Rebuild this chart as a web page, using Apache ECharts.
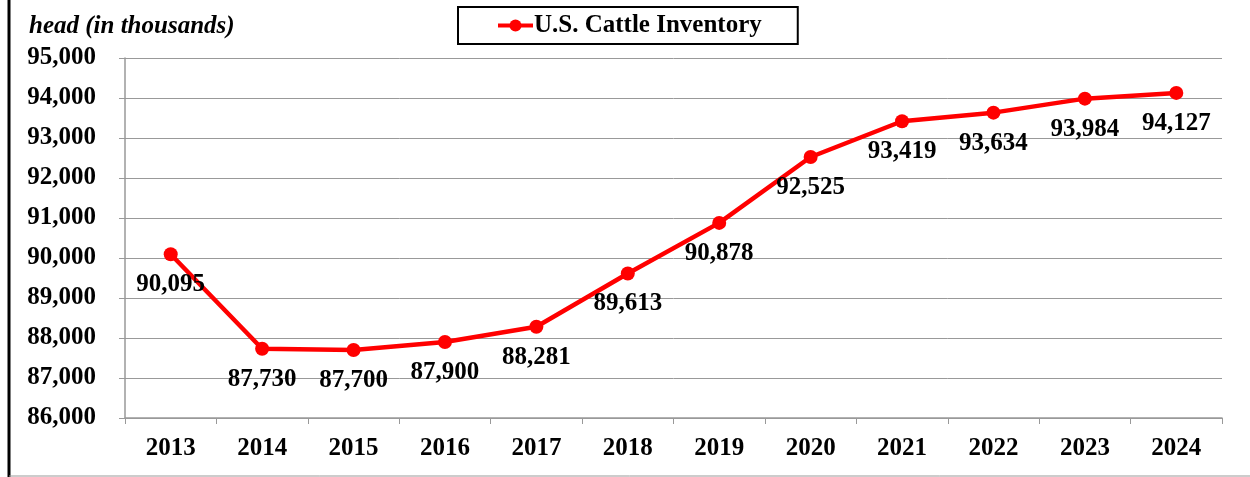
<!DOCTYPE html>
<html>
<head>
<meta charset="utf-8">
<script src="https://cdn.jsdelivr.net/npm/echarts@6/dist/echarts.min.js"></script>
<style>
  html, body { margin: 0; padding: 0; background: #fff; }
  #chart { width: 1250px; height: 477px; }
</style>
</head>
<body>
<div id="chart"></div>
<script>
// data
var years = ['2013', '2014', '2015', '2016', '2017', '2018', '2019', '2020', '2021', '2022', '2023', '2024'];
var inventory = [90095, 87730, 87700, 87900, 88281, 89613, 90878, 92525, 93419, 93634, 93984, 94127];
var yMin = 86000;
var yMax = 95000;
var yStep = 1000;

var serif = '"Liberation Serif", "Times New Roman", serif';

function fmt(v) {
  return String(v).replace(/\B(?=(\d{3})+(?!\d))/g, ',');
}

var myChart = echarts.init(document.getElementById('chart'));

var option = {
  animation: false,
  title: {
    text: 'head (in thousands)',
    left: 24,
    top: 9,
    textStyle: {
      fontFamily: serif,
      fontStyle: 'italic',
      fontWeight: 'bold',
      fontSize: 25,
      color: '#000'
    }
  },
  legend: {
    data: ['U.S. Cattle Inventory'],
    left: 458,
    top: 7,
    padding: [6, 36, 6, 38],
    borderColor: '#000',
    borderWidth: 2,
    itemWidth: 35,
    itemHeight: 15,
    lineStyle: { width: 4 },
    textStyle: {
      fontFamily: serif,
      fontWeight: 'bold',
      fontSize: 25,
      color: '#000',
      padding: [0, 0, 0, -4]
    }
  },
  grid: {
    left: 125,
    right: 28,
    top: 58,
    bottom: 59
  },
  xAxis: {
    type: 'category',
    data: years,
    boundaryGap: true,
    axisLine: { lineStyle: { color: '#999', width: 1.5 } },
    axisTick: { show: true, length: 6, lineStyle: { color: '#999' } },
    axisLabel: {
      margin: 18,
      fontFamily: serif,
      fontWeight: 'bold',
      fontSize: 25,
      color: '#000'
    }
  },
  yAxis: {
    type: 'value',
    min: yMin,
    max: yMax,
    interval: yStep,
    axisLine: { show: true, lineStyle: { color: '#999', width: 1.5 } },
    axisTick: { show: true, length: 6, lineStyle: { color: '#999' } },
    splitLine: { lineStyle: { color: '#999', width: 1 } },
    axisLabel: {
      margin: 29,
      padding: [3, 0, 0, 0],
      fontFamily: serif,
      fontWeight: 'bold',
      fontSize: 25,
      color: '#000',
      formatter: function (v) { return fmt(v); }
    }
  },
  series: [
    {
      name: 'U.S. Cattle Inventory',
      type: 'line',
      data: inventory,
      color: '#ff0000',
      symbol: 'circle',
      symbolSize: 14,
      lineStyle: { width: 4.5, color: '#ff0000' },
      label: {
        show: true,
        position: 'bottom',
        distance: 11,
        fontFamily: serif,
        fontWeight: 'bold',
        fontSize: 25,
        color: '#000',
        formatter: function (p) { return fmt(p.value); }
      }
    }
  ],
  graphic: [
    {
      type: 'line',
      shape: { x1: 9, y1: 0, x2: 9, y2: 477 },
      style: { stroke: '#000', lineWidth: 3 }
    },
    {
      type: 'line',
      shape: { x1: 9, y1: 476, x2: 1250, y2: 476 },
      style: { stroke: '#999', lineWidth: 1 }
    }
  ]
};

myChart.setOption(option);
</script>
</body>
</html>
